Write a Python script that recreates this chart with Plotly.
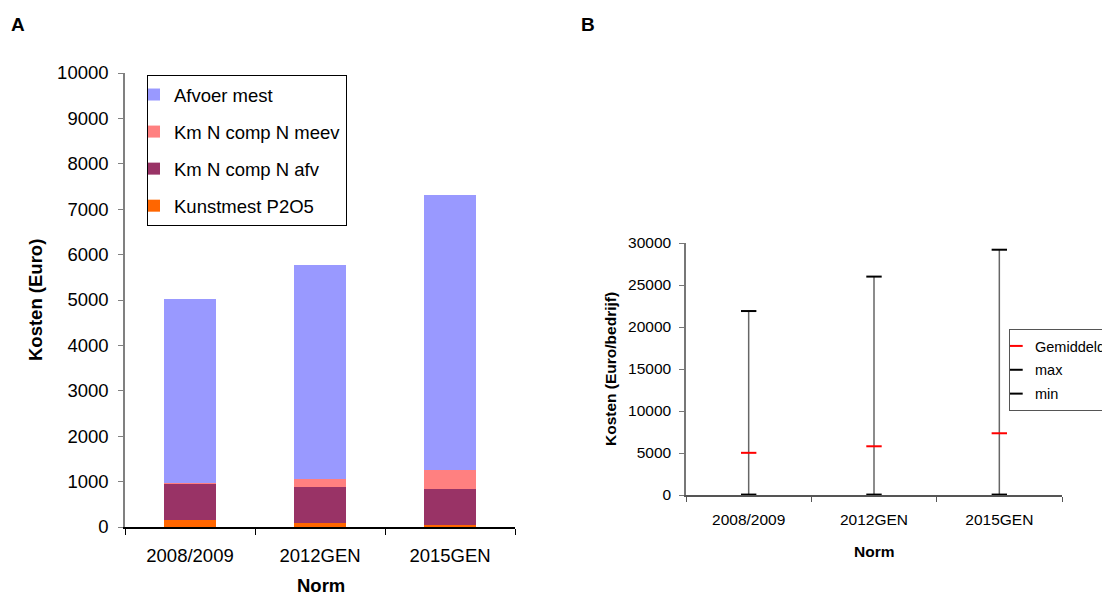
import plotly.graph_objects as go

# ---------------- data ----------------
categories = ["2008/2009", "2012GEN", "2015GEN"]

# panel A: stacked costs (Euro)
kunstmest_p2o5 = [160, 88, 44]
km_n_comp_afv = [792, 792, 791]
km_n_comp_meev = [23, 175, 425]
afvoer_mest = [4045, 4716, 6053]

# panel B: costs per farm (Euro/bedrijf)
gemiddeld = [5020, 5800, 7350]
maximum = [21900, 26000, 29200]
minimum = [50, 50, 50]

OFF = 8                      # page body margin
W, H = 1110 - OFF, 596 - OFF
FONT = "Liberation Sans, Arial, sans-serif"
FA = 18.5   # panel A font size
FB = 15.5   # panel B font size

fig = go.Figure()

# ---------------- panel A ----------------
stack = [
    ("Kunstmest P2O5", kunstmest_p2o5, "#FF6600", 4),
    ("Km N comp N afv", km_n_comp_afv, "#993366", 3),
    ("Km N comp N meev", km_n_comp_meev, "#FF8080", 2),
    ("Afvoer mest", afvoer_mest, "#9999FF", 1),
]
for name, vals, col, rank in stack:
    fig.add_trace(go.Bar(
        x=categories, y=vals, name=name, marker=dict(color=col, line=dict(width=0)),
        width=0.4, xaxis="x", yaxis="y", legend="legend", legendgroup=name,
        legendrank=rank,
    ))

# ---------------- panel B ----------------
lx, ly = [], []
for c, lo, hi in zip(categories, minimum, maximum):
    lx += [c, c, None]
    ly += [lo, hi, None]
fig.add_trace(go.Scatter(x=lx, y=ly, mode="lines", line=dict(color="#666666", width=1.5),
                         showlegend=False, xaxis="x2", yaxis="y2", hoverinfo="skip"))
for name, vals, col in [("Gemiddeld", gemiddeld, "#FF0000"),
                        ("max", maximum, "#000000"),
                        ("min", minimum, "#000000")]:
    fig.add_trace(go.Scatter(
        x=categories, y=vals, name=name, mode="markers",
        marker=dict(symbol="line-ew", size=11, line=dict(color=col, width=2)),
        xaxis="x2", yaxis="y2", legend="legend2", legendgroup=name,
    ))


def px_x(p):
    return (p - OFF) / W


def px_y(p):
    return 1 - (p - OFF) / H


def axis(**kw):
    base = dict(showgrid=False, zeroline=False, showline=True, ticks="outside",
                automargin=False, linewidth=1.5)
    base.update(kw)
    return base


def note(text, x, y, size, angle=0):
    return dict(text=text, x=px_x(x), y=px_y(y), xref="paper", yref="paper",
                xanchor="center", yanchor="middle", showarrow=False,
                textangle=angle, font=dict(size=size, family=FONT, color="#000000"))


fig.update_layout(
    width=W, height=H,
    margin=dict(l=0, r=0, t=0, b=0, autoexpand=False),
    paper_bgcolor="white", plot_bgcolor="white",
    barmode="stack",
    font=dict(family=FONT, color="#000000"),
    xaxis=axis(domain=[px_x(125), px_x(515)], anchor="y", type="category",
               range=[-0.5, 2.5], tickson="boundaries", ticklen=6,
               linecolor="#000000", tickcolor="#000000", ticklabelstandoff=11,
               tickfont=dict(family=FONT, size=FA, color="#000000")),
    yaxis=axis(domain=[px_y(527), px_y(73)], anchor="x", range=[0, 10000],
               dtick=1000, tickformat="d", ticklen=5, linecolor="#808080",
               tickcolor="#808080", ticklabelstandoff=6,
               tickfont=dict(family=FONT, size=FA, color="#000000")),
    xaxis2=axis(domain=[px_x(686), px_x(1062)], anchor="y2", type="category",
                range=[-0.5, 2.5], tickson="boundaries", ticklen=5,
                linecolor="#555555", tickcolor="#555555", ticklabelstandoff=10,
                tickfont=dict(family=FONT, size=FB, color="#000000")),
    yaxis2=axis(domain=[px_y(495), px_y(243)], anchor="x2", range=[0, 30000],
                dtick=5000, tickformat="d", ticklen=5, linecolor="#777777",
                tickcolor="#777777", ticklabelstandoff=5,
                tickfont=dict(family=FONT, size=FB, color="#000000")),
    legend=dict(x=px_x(147), y=px_y(75), xanchor="left", yanchor="top",
                xref="container", yref="container",
                traceorder="grouped", tracegroupgap=10,
                bordercolor="#000000", borderwidth=1, bgcolor="white",
                font=dict(family=FONT, size=FA, color="#000000"),
                itemwidth=30, indentation=-14),
    legend2=dict(x=px_x(1009), y=px_y(329), xanchor="left", yanchor="top",
                 xref="container", yref="container",
                 traceorder="grouped", tracegroupgap=2,
                 bordercolor="#555555", borderwidth=1, bgcolor="white",
                 font=dict(family=FONT, size=14.5, color="#000000"),
                 itemwidth=30, indentation=-15),
    showlegend=True,
    annotations=[
        note("<b>A</b>", 18, 25, 19),
        note("<b>B</b>", 588, 25, 19),
        note("<b>Kosten (Euro)</b>", 35, 300, FA, -90),
        note("<b>Norm</b>", 321, 585, FA),
        note("<b>Kosten (Euro/bedrijf)</b>", 610, 369, FB, -90),
        note("<b>Norm</b>", 874, 551, FB),
    ],
)

fig.write_html("out.html")
